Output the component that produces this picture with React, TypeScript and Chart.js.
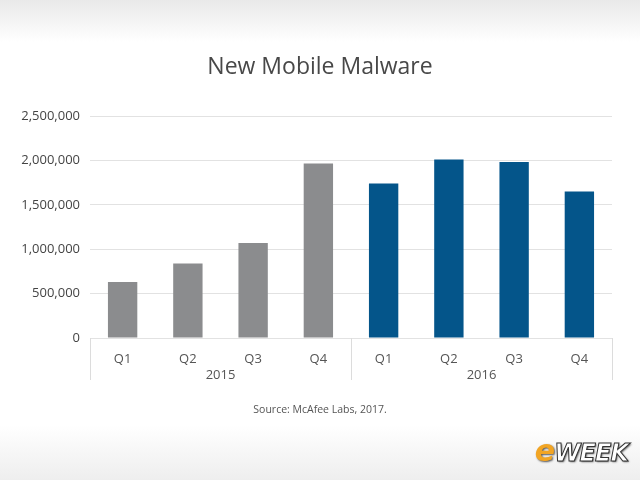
import React, { useEffect, useRef } from "react";
import { Chart, registerables } from "chart.js";

Chart.register(...registerables);

const quarters = ["Q1", "Q2", "Q3", "Q4", "Q1", "Q2", "Q3", "Q4"];
const years = ["2015", "2016"];
const malware = [630000, 838000, 1070000, 1964000, 1739000, 2009000, 1982000, 1649000];
const barColors = ["#8b8c8e", "#8b8c8e", "#8b8c8e", "#8b8c8e", "#04558a", "#04558a", "#04558a", "#04558a"];
const titleText = "New Mobile Malware";
const sourceText = "Source: McAfee Labs, 2017.";

const FONT = "'Open Sans', 'Noto Sans', sans-serif";

const groupLines = {
  id: "groupLines",
  afterDraw(chart: any) {
    const ctx = chart.ctx;
    const x = chart.scales.x;
    const top = chart.chartArea.bottom;
    const bottom = top + 42;
    ctx.save();
    ctx.strokeStyle = "#dcdcdc";
    ctx.lineWidth = 1;
    const bounds = [-0.5, 3.5, 7.5];
    bounds.forEach((v) => {
      const px = Math.round(x.getPixelForValue(v)) + 0.5;
      ctx.beginPath();
      ctx.moveTo(px, top);
      ctx.lineTo(px, bottom);
      ctx.stroke();
    });
    // title and source, centred on the full canvas
    const cx = chart.width / 2;
    ctx.textAlign = "center";
    ctx.textBaseline = "middle";
    ctx.fillStyle = "#484848";
    ctx.font = `normal 23px ${FONT}`;
    ctx.fillText(titleText, cx, 67);
    ctx.fillStyle = "#555";
    ctx.font = `normal 10.5px ${FONT}`;
    ctx.fillText(sourceText, cx, 410);
    ctx.restore();
  },
};

export default function App() {
  const ref = useRef<HTMLCanvasElement>(null);
  useEffect(() => {
    document.body.style.margin = "0";
    const chart = new Chart(ref.current as HTMLCanvasElement, {
      type: "bar",
      data: {
        labels: quarters,
        datasets: [
          {
            data: malware,
            backgroundColor: barColors,
            categoryPercentage: 1,
            barPercentage: 0.45,
            xAxisID: "x",
          },
        ],
      },
      options: {
        animation: false,
        responsive: false,
        maintainAspectRatio: false,
        layout: { padding: { left: 0, right: 28, top: 116, bottom: 95 } },
        plugins: {
          legend: { display: false },
          tooltip: { enabled: false },
          title: { display: false },
        },
        scales: {
          y: {
            min: 0,
            max: 2500000,
            ticks: {
              stepSize: 500000,
              color: "#444",
              font: { family: FONT, size: 13 },
              padding: 10,
              callback: (v: any) => Number(v).toLocaleString("en-US"),
            },
            grid: { color: "#e2e2e2", drawTicks: false },
            border: { display: false },
            afterFit: (s: any) => {
              s.width = 90;
            },
          },
          x: {
            type: "category",
            position: "bottom",
            ticks: { color: "#555", font: { family: FONT, size: 13 }, padding: 13 },
            grid: { display: false, drawTicks: false },
            border: { display: false },
            afterFit: (s: any) => {
              s.height = 29;
            },
          },
          x2: {
            type: "category",
            position: "bottom",
            labels: years,
            offset: true,
            ticks: { color: "#555", font: { family: FONT, size: 13 }, padding: 0 },
            grid: { display: false, drawTicks: false },
            border: { display: false },
            afterFit: (s: any) => {
              s.height = 18;
            },
          },
        },
      } as any,
      plugins: [groupLines],
    });
    return () => chart.destroy();
  }, []);

  return (
    <div
      style={{
        position: "fixed",
        left: 0,
        top: 0,
        width: 640,
        height: 480,
        background:
          "linear-gradient(to bottom, #e9e9e9 0px, #ffffff 42px, #ffffff 425px, #eeeeee 480px)",
      }}
    >
      <canvas ref={ref} width={640} height={480} style={{ position: "absolute", left: 0, top: 0 }} />
      <div
        style={{
          position: "absolute",
          right: 12,
          bottom: 12,
          fontFamily: "'DejaVu Sans', sans-serif",
          fontWeight: "bold",
          fontStyle: "italic",
          fontSize: 24,
          letterSpacing: -1,
          textShadow: "1px 1px 2px #555",
        }}
      >
        <span style={{ color: "#f2a524", fontSize: 30 }}>e</span>
        <span style={{ color: "#ffffff", WebkitTextStroke: "1px #333" }}>WEEK</span>
      </div>
    </div>
  );
}
